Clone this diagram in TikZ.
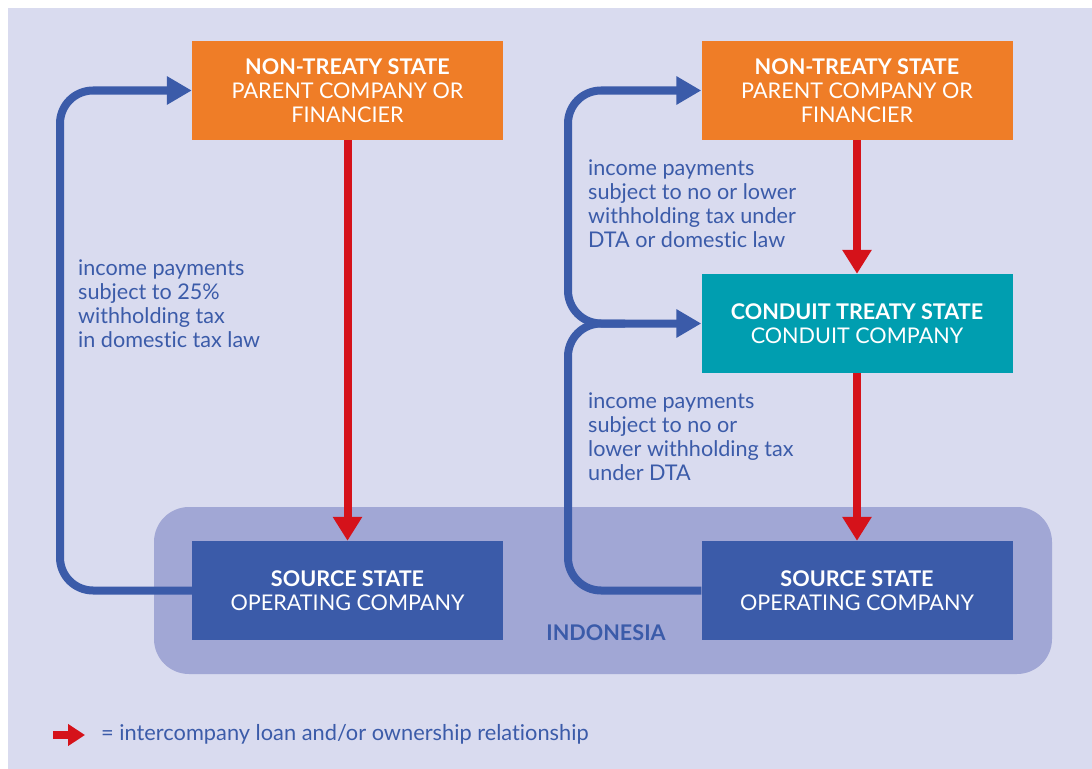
\documentclass[tikz,border=0pt]{standalone}
\usepackage{fontspec}
\setmainfont[Ligatures=NoCommon]{Lato}
\usetikzlibrary{arrows.meta}
\definecolor{bgl}{HTML}{D9DBEF}
\definecolor{indo}{HTML}{A1A7D5}
\definecolor{bblue}{HTML}{3B5BA9}
\definecolor{orng}{HTML}{EF7D27}
\definecolor{teal2}{HTML}{009EB0}
\definecolor{redd}{HTML}{D5121A}
\begin{document}
\begin{tikzpicture}[x=1bp,y=-1bp,
  box/.style={rectangle,minimum width=311bp,minimum height=99bp,inner sep=0pt,text=white,align=center,font=\fontsize{21.6bp}{24bp}\selectfont},
  lbl/.style={anchor=north west,align=left,inner sep=0pt,text=bblue,font=\fontsize{21.6bp}{24bp}\selectfont},
  redarrow/.style={draw=redd,line width=8bp,-{Triangle[length=24bp,width=28bp]},redd},
  bluearrow/.style={draw=bblue,line width=8bp,rounded corners=33bp},
  bluetip/.style={-{Triangle[length=25bp,width=27bp]}}
]
\useasboundingbox (0,0) rectangle (1092,769);
\fill[white] (0,0) rectangle (1092,769);
\fill[bgl] (8,8) rectangle (1092,769);
\fill[indo,rounded corners=35bp] (154,507) rectangle (1052,674);
\node[text=bblue,font=\fontsize{21.6bp}{24bp}\selectfont\bfseries] (indo) at (606,633) {INDONESIA};

\node[box,fill=orng] (orL) at (347.5,90.5) {\textbf{NON-TREATY STATE}\\PARENT COMPANY OR\\FINANCIER};
\node[box,fill=orng] (orR) at (857,90.5) {\textbf{NON-TREATY STATE}\\PARENT COMPANY OR\\FINANCIER};
\node[box,fill=teal2] (cond) at (857,323.5) {\textbf{CONDUIT TREATY STATE}\\CONDUIT COMPANY};
\node[box,fill=bblue] (srcL) at (347.5,590.5) {\textbf{SOURCE STATE}\\OPERATING COMPANY};
\node[box,fill=bblue] (srcR) at (857,590.5) {\textbf{SOURCE STATE}\\OPERATING COMPANY};

\draw[redarrow] (orL.south) -- (srcL.north);
\draw[redarrow] (orR.south) -- (cond.north);
\draw[redarrow] (cond.south) -- (srcR.north);

\coordinate (lb) at (60,590.5);
\coordinate (lt) at (60,90.5);
\draw[bluearrow,bluetip] (srcL.west) -- (lb) -- (lt) -- (orL.west);

\coordinate (rb) at (568,590.5);
\coordinate (rm) at (568,323.5);
\coordinate (rj) at (625,323.5);
\coordinate (rt) at (568,90.5);
\draw[bluearrow,bluetip] (srcR.west) -- (rb) -- (rm) -- (cond.west);
\draw[bluearrow,bluetip] (rj) -- (rm) -- (rt) -- (orR.west);

\node[lbl] (t1) at (78,260) {income payments\\subject to 25\%\\withholding tax\\in domestic tax law};
\node[lbl] (t2) at (588,160) {income payments\\subject to no or lower\\withholding tax under\\DTA or domestic law};
\node[lbl] (t3) at (588,393) {income payments\\subject to no or\\lower withholding tax\\under DTA};

\coordinate (la) at (53,735);
\coordinate (lz) at (85,735);
\draw[draw=redd,line width=8bp,-{Triangle[length=17bp,width=21bp]},redd] (la) -- (lz);
\node[anchor=west,inner sep=0pt,text=bblue,font=\fontsize{21.8bp}{24bp}\selectfont] (leg) at (101,734) {= intercompany loan and/or ownership relationship};
\end{tikzpicture}
\end{document}
